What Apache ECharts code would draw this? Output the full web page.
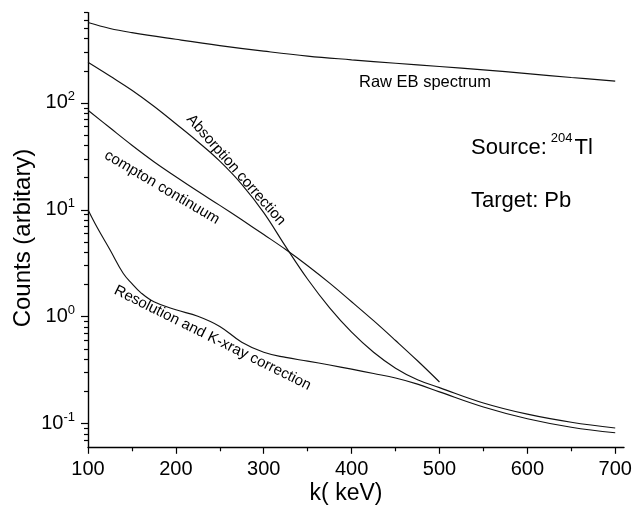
<!DOCTYPE html>
<html><head><meta charset="utf-8">
<script src="https://cdn.jsdelivr.net/npm/echarts@6/dist/echarts.min.js"></script>
<style>html,body{margin:0;padding:0;background:#fff}#c{width:635px;height:510px}</style>
</head><body><div id="c"></div>
<script>
const rawEnergy = [100,125,150,200,250,300,350,400,450,500,550,600,650,700];
const rawCounts = [565,497,455,394,344,305,274,253,235,219,204,188,173,160];
const absEnergy = [100,125,150,175,200,225,250,275,300,325,350,375,400,425,450,475,500,550,600,650,700];
const absCounts = [240.5,178.6,131.5,93.1,63.8,43.3,28.5,17.3,9.40,4.52,2.24,1.21,0.716,0.465,0.330,0.257,0.217,0.156,0.1225,0.103,0.091];
const comptonEnergy = [100,125,150,175,200,225,250,275,300,325,350,375,400,425,450,475,500];
const comptonCounts = [85.5,58.5,40.2,28.2,20.4,14.9,11.0,8.06,5.87,4.25,3.00,2.06,1.38,0.918,0.599,0.387,0.245];
const resEnergy = [100,110,125,140,150,160,175,200,225,250,275,300,325,350,375,400,425,450,475,500,550,600,650,700];
const resCounts = [10,6.93,4.23,2.55,2.04,1.68,1.38,1.16,1.01,0.811,0.577,0.465,0.416,0.384,0.353,0.323,0.294,0.267,0.234,0.198,0.143,0.111,0.0925,0.082];
const xMajorTicks = [100,200,300,400,500,600,700];
const xMinorTicks = [150,250,350,450,550,650];
const yMajorTicks = [0.1,1,10,100];
const yMinorTicks = [0.07,0.08,0.09,0.2,0.3,0.4,0.5,0.6,0.7,0.8,0.9,2,3,4,5,6,7,8,9,20,30,40,50,60,70,80,90,200,300,400,500,600,700];
const labels = {
  raw: 'Raw EB spectrum',
  abs: 'Absorption correction',
  compton: 'compton continuum',
  res: 'Resolution and K-xray correction',
  source: 'Source:{sup|204}Tl',
  target: 'Target: Pb',
  xTitle: 'k( keV)',
  yTitle: 'Counts (arbitary)'
};

const FF = '"Liberation Sans", Arial, Helvetica, sans-serif';
const zip = (a, b) => a.map((v, i) => [v, b[i]]);
const X_MIN = 100, X_MAX = 710, Y_MIN = 0.06, Y_MAX = 700;

const chart = echarts.init(document.getElementById('c'), null, {renderer: 'canvas'});
const lineSeries = (data) => ({
  type: 'line', data: data, showSymbol: false, smooth: 0.4, silent: true,
  lineStyle: {color: '#111', width: 1.15}, xAxisIndex: 0, yAxisIndex: 0, z: 3
});
chart.setOption({
  animation: false,
  backgroundColor: '#fff',
  grid: {left: 88, right: 11, top: 12.6, bottom: 62.7, containLabel: false, outerBoundsMode: 'none'},
  xAxis: [{
    type: 'value', min: X_MIN, max: X_MAX,
    axisLine: {show: true, lineStyle: {color: '#000', width: 1.4}},
    axisTick: {show: true, length: 6.5, lineStyle: {color: '#000', width: 1.2}, customValues: xMajorTicks},
    axisLabel: {show: true, customValues: xMajorTicks, margin: 12, fontSize: 20, color: '#000', fontFamily: FF},
    splitLine: {show: false}
  }, {
    type: 'value', min: X_MIN, max: X_MAX, position: 'bottom',
    axisLine: {show: false},
    axisTick: {show: true, length: 4, lineStyle: {color: '#000', width: 1.2}, customValues: xMinorTicks},
    axisLabel: {show: false}, splitLine: {show: false}
  }],
  yAxis: [{
    type: 'log', logBase: 10, min: Y_MIN, max: Y_MAX,
    axisLine: {show: true, lineStyle: {color: '#000', width: 1.4}},
    axisTick: {show: true, length: 7, lineStyle: {color: '#000', width: 1.2}, customValues: yMajorTicks},
    axisLabel: {
      show: true, customValues: yMajorTicks, margin: 13, fontSize: 20, color: '#000', fontFamily: FF,
      formatter: (v) => '10{sup|' + Math.round(Math.log10(v)) + '}',
      rich: {sup: {fontSize: 13, fontFamily: FF, color: '#000', verticalAlign: 'middle', padding: [0, 0, 13, 0]}}
    },
    splitLine: {show: false}
  }, {
    type: 'log', logBase: 10, min: Y_MIN, max: Y_MAX, position: 'left',
    axisLine: {show: false},
    axisTick: {show: true, length: 4, lineStyle: {color: '#000', width: 1.2}, customValues: yMinorTicks},
    axisLabel: {show: false}, splitLine: {show: false}
  }],
  series: [
    lineSeries(zip(rawEnergy, rawCounts)),
    lineSeries(zip(absEnergy, absCounts)),
    lineSeries(zip(comptonEnergy, comptonCounts)),
    lineSeries(zip(resEnergy, resCounts))
  ],
  graphic: [
    {type: 'text', x: 359, y: 82, style: {text: labels.raw, fontSize: 16.5, fontFamily: FF, fill: '#000', align: 'left', verticalAlign: 'middle'}},
    {type: 'text', x: 236, y: 170, rotation: -48.7 * Math.PI / 180, style: {text: labels.abs, fontSize: 15, fontFamily: FF, fill: '#000', align: 'center', verticalAlign: 'middle'}},
    {type: 'text', x: 162, y: 187.5, rotation: -30.6 * Math.PI / 180, style: {text: labels.compton, fontSize: 15, fontFamily: FF, fill: '#000', align: 'center', verticalAlign: 'middle'}},
    {type: 'text', x: 212.5, y: 338, rotation: -26.4 * Math.PI / 180, style: {text: labels.res, fontSize: 15, fontFamily: FF, fill: '#000', align: 'center', verticalAlign: 'middle'}},
    {type: 'text', x: 471, y: 148, style: {text: labels.source, fontSize: 22, fontFamily: FF, fill: '#000', align: 'left', verticalAlign: 'middle',
      rich: {sup: {fontSize: 13, fontFamily: FF, fill: '#000', verticalAlign: 'middle', padding: [0, 2, 20, 4]}}}},
    {type: 'text', x: 471, y: 201, style: {text: labels.target, fontSize: 22, fontFamily: FF, fill: '#000', align: 'left', verticalAlign: 'middle'}},
    {type: 'text', x: 346, y: 494, style: {text: labels.xTitle, fontSize: 23, fontFamily: FF, fill: '#000', align: 'center', verticalAlign: 'middle'}},
    {type: 'text', x: 23, y: 238, rotation: Math.PI / 2, style: {text: labels.yTitle, fontSize: 24, fontFamily: FF, fill: '#000', align: 'center', verticalAlign: 'middle'}}
  ]
});
</script></body></html>
